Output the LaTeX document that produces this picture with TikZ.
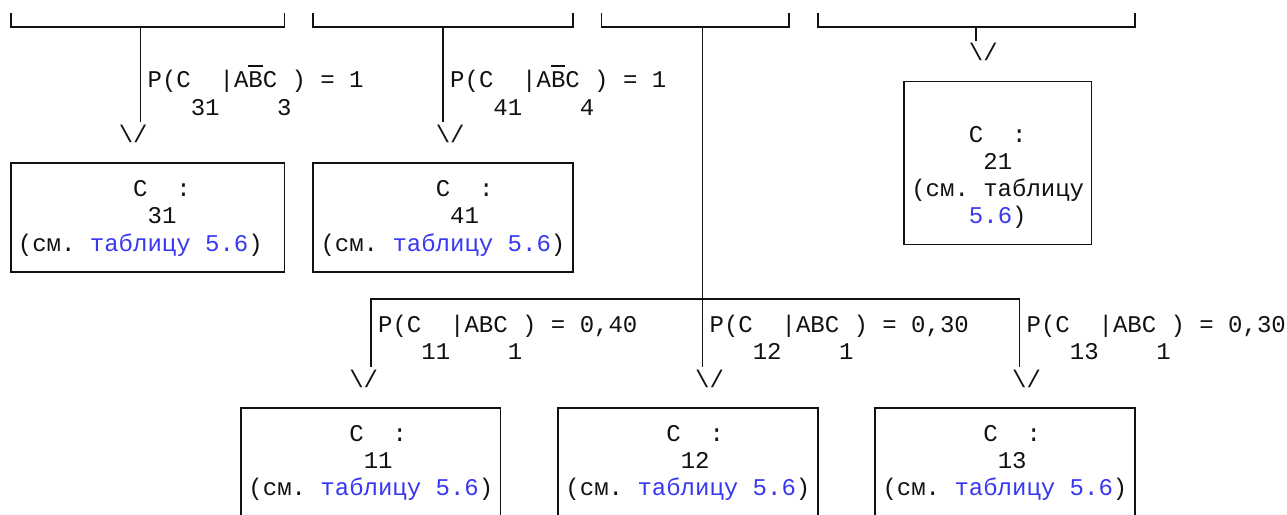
\documentclass[tikz,border=0pt]{standalone}
\usepackage{fontspec}
\newfontfamily\asciifont{Liberation Mono}
\definecolor{lnk}{HTML}{3838F2}
\definecolor{ink}{HTML}{111111}
\newcommand\xcl[1]{(3.5+14.41*(#1))}
\newcommand\xcc[1]{(10.7+14.41*(#1))}
\newcommand\yrc[1]{(27+27.2*(#1))}
\newcommand\ybl[1]{(33.4+27.2*(#1))}
\newcommand\ovb[1]{\makebox[0pt][l]{\rule[0.86em]{0.6em}{0.07em}}#1}
\newcommand\tline[4]{\node[txt] (#1) at ({\xcl{#2}},{\ybl{#3}}) {#4};}
\newcommand\bbox[5]{\node[boxst, minimum width={14.41*((#3)-(#2))}, minimum height={27.2*((#5)-(#4))}] (#1) at ({10.7+14.41*((#2)+(#3))/2},{27+27.2*((#4)+(#5))/2}) {};}
\newcommand\seetab{(см.~\textcolor{lnk}{таблицу~5.6})}
\begin{document}
\begin{tikzpicture}[x=1pt,y=-1pt,
 txt/.style={font=\asciifont\fontsize{24}{27.2}\selectfont\frenchspacing, inner sep=0pt, outer sep=0pt, anchor=base west, text=ink},
 ln/.style={draw=ink, line width=1.7pt},
 boxst/.style={rectangle, draw=ink, line width=1.7pt, inner sep=0pt, outer sep=0pt}]
\useasboundingbox (0,0) rectangle (1287,514);
\fill[white] (0,0) rectangle (1287,514);
\clip (0,0) rectangle (1287,514);
% top boxes (only their lower parts are visible)
\begin{scope}
\clip (0,13.4) rectangle (1287,514);
\bbox{t1}{0}{19}{-2}{0}
\bbox{t2}{21}{39}{-2}{0}
\bbox{t3}{41}{54}{-2}{0}
\bbox{t4}{56}{78}{-2}{0}
\end{scope}
% lower boxes
\bbox{b31}{0}{19}{5}{9}
\bbox{b41}{21}{39}{5}{9}
\bbox{b21}{62}{75}{2}{8}
\bbox{b11}{16}{34}{14}{18}
\bbox{b12}{38}{56}{14}{18}
\bbox{b13}{60}{78}{14}{18}
% connector ends
\coordinate (k1) at ({\xcc{9}},{\yrc{3.5}});
\coordinate (k2) at ({\xcc{30}},{\yrc{3.5}});
\coordinate (k3) at ({\xcc{48}},{\yrc{12.5}});
\coordinate (k4) at ({\xcc{67}},{\yrc{0.5}});
\coordinate (mL) at ({\xcc{25}},{\yrc{10}});
\coordinate (mR) at ({\xcc{70}},{\yrc{10}});
\coordinate (kL) at ({\xcc{25}},{\yrc{12.5}});
\coordinate (kR) at ({\xcc{70}},{\yrc{12.5}});
\draw[ln] (t1.south -| k1) -- (k1);
\draw[ln] (t2.south -| k2) -- (k2);
\draw[ln] (t3.south -| k3) -- (k3);
\draw[ln] (t4.south -| k4) -- (k4);
\draw[ln] (kL) -- (mL) -- (mR) -- (kR);
% arrow heads
\tline{a1}{8}{4}{\textbackslash/}
\tline{a2}{30}{4}{\textbackslash/}
\tline{a4}{67}{1}{\textbackslash/}
\tline{aL}{24}{13}{\textbackslash/}
\tline{aM}{48}{13}{\textbackslash/}
\tline{aR}{70}{13}{\textbackslash/}
% upper labels
\tline{p31}{10}{2}{P(C~~|A\ovb{B}C~)~=~1}
\tline{s31}{13}{3}{31~~~~3}
\tline{p41}{31}{2}{P(C~~|A\ovb{B}C~)~=~1}
\tline{s41}{34}{3}{41~~~~4}
% middle labels
\tline{p11}{26}{11}{P(C~~|ABC~)~=~0,40}
\tline{s11}{29}{12}{11~~~~1}
\tline{p12}{49}{11}{P(C~~|ABC~)~=~0,30}
\tline{s12}{52}{12}{12~~~~1}
\tline{p13}{71}{11}{P(C~~|ABC~)~=~0,30}
\tline{s13}{74}{12}{13~~~~1}
% box texts
\tline{c31}{9}{6}{C~~:}
\tline{n31}{10}{7}{31}
\tline{r31}{1}{8}{\seetab}
\tline{c41}{30}{6}{C~~:}
\tline{n41}{31}{7}{41}
\tline{r41}{22}{8}{\seetab}
\tline{c21}{67}{4}{C~~:}
\tline{n21}{68}{5}{21}
\tline{r21}{63}{6}{(см.~таблицу}
\tline{q21}{67}{7}{\textcolor{lnk}{5.6})}
\tline{c11}{24}{15}{C~~:}
\tline{n11}{25}{16}{11}
\tline{r11}{17}{17}{\seetab}
\tline{c12}{46}{15}{C~~:}
\tline{n12}{47}{16}{12}
\tline{r12}{39}{17}{\seetab}
\tline{c13}{68}{15}{C~~:}
\tline{n13}{69}{16}{13}
\tline{r13}{61}{17}{\seetab}
\end{tikzpicture}
\end{document}
